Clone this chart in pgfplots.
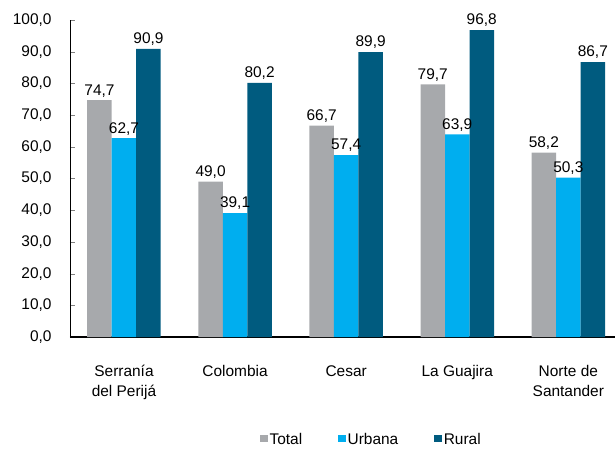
\documentclass[border=0pt]{standalone}
\usepackage{fontspec}
\setmainfont{Liberation Sans}
\usepackage{pgfplots}
\pgfplotsset{compat=1.18}
\definecolor{cTotal}{HTML}{A7A9AC}
\definecolor{cUrb}{HTML}{00AEEF}
\definecolor{cRur}{HTML}{005B7F}
\begin{document}
\begin{tikzpicture}
\useasboundingbox (-70bp,-114bp) rectangle (545bp,337bp);
\begin{axis}[
  scale only axis,
  width=545bp, height=317bp,
  at={(0,0)}, anchor=south west,
  xmin=-0.486, xmax=4.42,
  ymin=0, ymax=100,
  axis x line=bottom, axis y line=left,
  axis line style={-},
  x axis line style={line width=1.4pt},
  y axis line style={line width=0.6pt},
  ytick={0,10,...,100},
  tick align=inside,
  major tick length=5bp,
  xtick={0,1,2,3,4},
  xtick style={draw=none},
  xticklabels={{Serranía\\del Perijá},{Colombia},{Cesar},{La Guajira},{Norte de\\Santander}},
  xticklabel style={align=center, font=\fontsize{15.5}{19.5}\selectfont, yshift=-20bp},
  yticklabel style={font=\fontsize{15.5}{18}\selectfont, xshift=-15bp},
  /pgf/number format/.cd, fixed, fixed zerofill, precision=1, use comma, assume math mode=true,
  /pgfplots/.cd,
  ybar=0pt, bar width=24.5bp,
  nodes near coords={\pgfmathprintnumber[fixed,fixed zerofill,precision=1,use comma,assume math mode=true]{\pgfplotspointmeta}},
  every node near coord/.append style={font=\fontsize{15.5}{18}\selectfont, text=black, inner sep=3bp},
  legend style={draw=none, at={(0.553,-0.325)}, anchor=center, legend columns=3,
    font=\fontsize{15.5}{18}\selectfont,
    /tikz/every even column/.append style={column sep=34bp}},
  legend image code/.code={\fill[#1] (0bp,-0.22em) rectangle (7.5bp,{-0.22em+7.5bp});},
]
\addplot[fill=cTotal, draw=none] coordinates {(0,74.7) (1,49.0) (2,66.7) (3,79.7) (4,58.2)};
\addplot[fill=cUrb, draw=none] coordinates {(0,62.7) (1,39.1) (2,57.4) (3,63.9) (4,50.3)};
\addplot[fill=cRur, draw=none] coordinates {(0,90.9) (1,80.2) (2,89.9) (3,96.8) (4,86.7)};
\legend{Total,Urbana,Rural}
\end{axis}
\end{tikzpicture}
\end{document}
